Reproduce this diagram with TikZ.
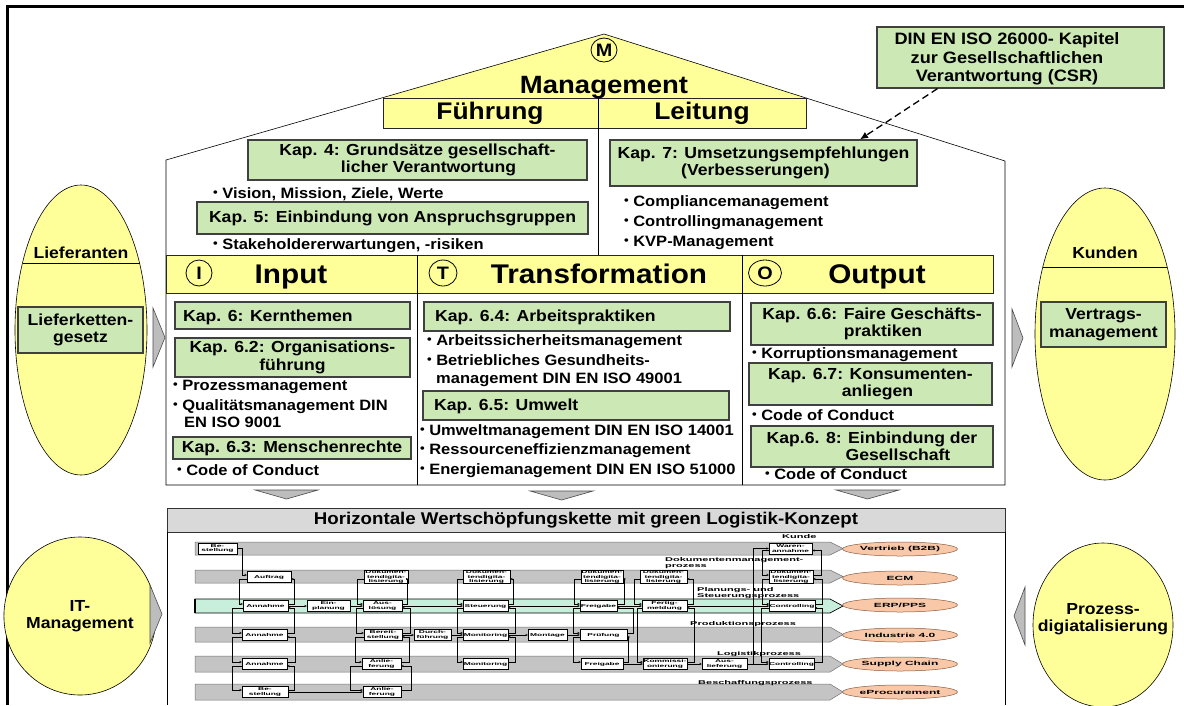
\documentclass[tikz,border=0pt]{standalone}
\usepackage{fontspec}
\usepackage{graphicx}
\setmainfont{Liberation Sans}[FakeStretch=1.1]
\newfontfamily\pfont{Liberation Sans}[FakeStretch=2.0]
\usetikzlibrary{shapes.geometric,arrows.meta}
\definecolor{cyel}{HTML}{FFFF99}
\definecolor{cgrn}{HTML}{CCE8B4}
\definecolor{cgry}{HTML}{BDBDBD}
\definecolor{cbar}{HTML}{D9D9D9}
\definecolor{clane}{HTML}{C4C4C4}
\definecolor{cmint}{HTML}{C8EEDC}
\definecolor{corg}{HTML}{F8C8A8}
\definecolor{corgd}{HTML}{8A5A40}
\newcommand{\mybul}{\raisebox{0.08em}{\scalebox{0.8}{•}}\hspace{0.3em}}
\newcommand{\fBody}{\fontsize{15}{17}\selectfont\bfseries}
\newcommand{\fTitle}{\fontsize{16}{17.5}\selectfont\bfseries}
\newcommand{\fHead}{\fontsize{24}{26}\selectfont\bfseries}
\newcommand{\fBig}{\fontsize{27}{29}\selectfont\bfseries}
\newcommand{\fEll}{\fontsize{16}{17.5}\selectfont\bfseries}
\newcommand{\fBox}{\pfont\fontsize{4.2}{4.4}\selectfont\bfseries}
\newcommand{\fLab}{\pfont\fontsize{5.5}{6}\selectfont\bfseries}
\newcommand{\fOrg}{\pfont\fontsize{6}{7}\selectfont\bfseries}
\tikzset{
  ybox/.style={draw=black!85, fill=cyel, line width=0.9pt, inner sep=0pt},
  gbox/.style={draw=black!75, fill=cgrn, line width=1.2pt, inner sep=0pt, align=center, font=\fTitle},
  tt/.style={inner sep=0pt, anchor=base west, font=\fBody},
  ell/.style={draw=black, fill=cyel, ellipse, inner sep=0pt, line width=0.6pt, align=center, font=\fEll},
  garrow/.style={fill=cgry, draw=black!70, line width=0.6pt},
  lanebox/.style={fill=clane, draw=black!55, line width=0.5pt},
  pb/.style={draw=black, fill=white, line width=0.4pt, inner sep=0.3pt, minimum height=11pt, align=center, font=\fBox},
  plab/.style={inner sep=0pt, anchor=base west, font=\fLab},
  oell/.style={ellipse, draw=corgd, fill=corg, line width=0.5pt, minimum width=115pt, minimum height=14pt, inner sep=0pt, font=\fOrg},
  plink/.style={draw=black, line width=0.45pt, -{Stealth[length=2.4pt,width=2.2pt]}},
}
\newcommand{\plinkv}[4]{%
  \draw[plink] ([yshift=-2pt]#1.west) -- ++(-#3,0) |- ([yshift=2pt]#2.west);
  \draw[plink] ([yshift=2pt]#2.east) -- ++(#4,0) |- ([yshift=-2pt]#1.east);}
\begin{document}
\begin{tikzpicture}[x=1pt,y=-1pt]
\useasboundingbox (0,0) rectangle (1184,705);
% outer frame
\draw[line width=3.5pt] (7.5,705) -- (7.5,6.5) -- (1184,6.5);
% house
\fill[cyel] (381,98) -- (604,34) -- (806,98) -- cycle;
\draw[line width=0.6pt] (166,485) -- (166,160) -- (604,34) -- (1005,161) -- (1005,485) -- cycle;
\node[ybox, minimum width=423pt, minimum height=30pt] (fl) at (594.5,113) {};
\draw[line width=0.6pt] (598,98) -- (598,255);
\node[draw, ellipse, line width=0.8pt, minimum width=26pt, minimum height=24pt, inner sep=0pt, font=\fontsize{18}{20}\selectfont\bfseries] (mcirc) at (604,50) {M};
\node[tt, anchor=base, font=\fontsize{25}{27}\selectfont\bfseries] (mgmt) at (604,93) {Management};
\node[tt, anchor=base, font=\fHead] (fuehr) at (490,119) {Führung};
\node[tt, anchor=base, font=\fHead] (leit) at (702,119) {Leitung};
% roof boxes
\node[gbox, minimum width=339pt, minimum height=40pt] (k4) at (417.5,160) {Kap. 4: Grundsätze gesellschaft-\\\hspace*{22pt}licher Verantwortung};
\node[tt] (vis) at (213,198) {\mybul Vision, Mission, Ziele, Werte};
\node[gbox, minimum width=391pt, minimum height=32pt] (k5) at (392.5,218) {Kap. 5: Einbindung von Anspruchsgruppen};
\node[tt] (stake) at (213,249) {\mybul Stakeholdererwartungen, -risiken};
\node[gbox, minimum width=307pt, minimum height=46pt] (k7) at (763.5,163) {Kap. 7: Umsetzungsempfehlungen\\(Verbesserungen)\hspace*{16pt}};
\node[tt] (comp) at (624,206) {\mybul Compliancemanagement};
\node[tt] (contr) at (624,226) {\mybul Controllingmanagement};
\node[tt] (kvp) at (624,246) {\mybul KVP-Management};
\node[gbox, minimum width=287pt, minimum height=61pt] (din) at (1020.5,57.5) {};
\node[inner sep=0pt, align=center, font=\fontsize{16.5}{18.5}\selectfont\bfseries] (dint) at (1007,59) {DIN EN ISO 26000- Kapitel\\zur Gesellschaftlichen\\Verantwortung (CSR)};
\draw[dash pattern=on 7pt off 4pt, line width=1.3pt, -{Latex[length=8pt,width=7pt]}] ([xshift=-83pt]din.south) -- ([xshift=96.5pt]k7.north);
% I T O band
\node[ybox, minimum width=827pt, minimum height=38pt] (band) at (579.5,274) {};
\draw[line width=0.6pt] (417,255) -- (417,485);
\draw[line width=0.6pt] (742,255) -- (742,485);
\node[draw, ellipse, line width=0.8pt, minimum width=26pt, minimum height=26pt, inner sep=0pt, font=\fontsize{18}{20}\selectfont\bfseries] (ci) at (199,273) {I};
\node[draw, ellipse, line width=0.8pt, minimum width=28pt, minimum height=26pt, inner sep=0pt, font=\fontsize{18}{20}\selectfont\bfseries] (ct) at (443,273) {T};
\node[draw, ellipse, line width=0.8pt, minimum width=33pt, minimum height=26pt, inner sep=0pt, font=\fontsize{18}{20}\selectfont\bfseries] (co) at (765,273) {O};
\node[tt, anchor=base, font=\fBig] (hin) at (291,283) {Input};
\node[tt, anchor=base, font=\fBig] (htr) at (599,283) {Transformation};
\node[tt, anchor=base, font=\fBig] (hout) at (877,283) {Output};
% Input column
\node[gbox, minimum width=235pt, minimum height=27pt] (k6) at (292.5,315.5) {};
\node[tt, font=\fTitle] (k6t) at (183,321) {Kap. 6: Kernthemen};
\node[gbox, minimum width=235pt, minimum height=39pt] (k62) at (292.5,357.5) {Kap. 6.2: Organisations-\\führung};
\node[tt] (proz) at (173,390) {\mybul Prozessmanagement};
\node[tt] (qual) at (173,410) {\mybul Qualitätsmanagement DIN};
\node[tt] (qual2) at (184,427) {EN ISO 9001};
\node[gbox, minimum width=238pt, minimum height=22pt] (k63) at (292,448) {Kap. 6.3: Menschenrechte};
\node[tt] (coc1) at (177,475) {\mybul Code of Conduct};
% Transformation column
\node[gbox, minimum width=306pt, minimum height=29pt] (k64) at (577,316.5) {};
\node[tt, font=\fTitle] (k64t) at (435,321) {Kap. 6.4: Arbeitspraktiken};
\node[tt] (asm) at (427,345) {\mybul Arbeitssicherheitsmanagement};
\node[tt] (bgm) at (427,365) {\mybul Betriebliches Gesundheits-};
\node[tt] (bgm2) at (436,383) {management DIN EN ISO 49001};
\node[gbox, minimum width=306pt, minimum height=29pt] (k65) at (576,405.5) {};
\node[tt, font=\fTitle] (k65t) at (434,410) {Kap. 6.5: Umwelt};
\node[tt] (umw) at (420,435) {\mybul Umweltmanagement DIN EN ISO 14001};
\node[tt] (res) at (420,454) {\mybul Ressourceneffizienzmanagement};
\node[tt] (ene) at (420,474) {\mybul Energiemanagement DIN EN ISO 51000};
% Output column
\node[gbox, minimum width=242pt, minimum height=42pt] (k66) at (872,324) {Kap. 6.6: Faire Geschäfts-\\\hspace*{22pt}praktiken};
\node[tt] (korr) at (752,358) {\mybul Korruptionsmanagement};
\node[gbox, minimum width=243pt, minimum height=42pt] (k67) at (870.5,384) {Kap. 6.7: Konsumenten-\\\hspace*{14pt}anliegen};
\node[tt] (coc2) at (752,420) {\mybul Code of Conduct};
\node[gbox, minimum width=242pt, minimum height=41pt] (k68) at (872,446.5) {Kap.6. 8: Einbindung der\\\hspace*{52pt}Gesellschaft};
\node[tt] (coc3) at (765,479) {\mybul Code of Conduct};
% side ellipses
\node[ell, minimum width=132pt, minimum height=290pt] (lief) at (81,330) {};
\draw[line width=0.6pt] (22.5,263) -- (139.5,263);
\node[tt, anchor=base, font=\fEll] (lieft) at (81,258) {Lieferanten};
\node[gbox, minimum width=125pt, minimum height=46pt] (lkg) at (80.5,330) {Lieferketten-\\gesetz};
\node[ell, minimum width=140pt, minimum height=292pt] (kund) at (1105,334) {};
\draw[line width=0.6pt] (1042.8,267) -- (1167.2,267);
\node[tt, anchor=base, font=\fEll] (kundt) at (1105,258) {Kunden};
\node[gbox, minimum width=125pt, minimum height=45pt] (vm) at (1103.5,324.5) {Vertrags-\\management};
\filldraw[garrow] (153,308) -- (165,337.5) -- (153,367) -- cycle;
\filldraw[garrow] (1012,309) -- (1023,338) -- (1012,367) -- cycle;
% down arrows
\filldraw[garrow] (255,490) -- (318,490) -- (286.5,499) -- cycle;
\filldraw[garrow] (530,491) -- (593,491) -- (561.5,500) -- cycle;
\filldraw[garrow] (836,490) -- (899,490) -- (867.5,499) -- cycle;
% bar
\node[draw=black!80, fill=cbar, line width=0.8pt, minimum width=838pt, minimum height=24pt, inner sep=0pt, font=\fontsize{17}{19}\selectfont\bfseries] (hbar) at (586,520) {Horizontale Wertschöpfungskette mit green Logistik-Konzept};
\draw[line width=0.8pt] (167,532) -- (167,705);
\draw[line width=0.8pt] (1005,532) -- (1005,705);
% bottom side ellipses
\node[ell, minimum width=130pt, minimum height=158pt] (itm) at (80,616) {IT-\\Management};
\filldraw[garrow] (150,585) -- (162,614) -- (150,643) -- cycle;
\node[ell, minimum width=140pt, minimum height=164pt] (pd) at (1103,625) {};
\node[inner sep=0pt, align=center, font=\fEll] (pdt) at (1103,619) {Prozess-\\digiatalisierung};
\filldraw[garrow] (1025,587) -- (1014,616) -- (1025,645) -- cycle;
% process lanes
\foreach \t/\b in {542/555, 570/583, 627/642, 656/672, 684/700}{
  \filldraw[lanebox] (195,\t) -- (830,\t) -- (843,{(\t+\b)/2}) -- (830,\b) -- (195,\b) -- cycle;
}
\filldraw[fill=cmint, draw=black, line width=0.7pt] (195,599) -- (830,599) -- (843,606) -- (830,613) -- (195,613) -- cycle;
\draw[line width=2pt] (195,599) -- (195,613);
% lane labels
\node[plab] (lk) at (782,538) {Kunde};
\node[plab] (ld1) at (665,561) {Dokumentenmanagement-};
\node[plab] (ld2) at (665,567) {prozess};
\node[plab] (lp1) at (697,591) {Planungs- und};
\node[plab] (lp2) at (697,597) {Steuerungsprozess};
\node[plab] (lpr) at (690,625) {Produktionsprozess};
\node[plab] (llo) at (717,655) {Logistikprozess};
\node[plab] (lbe) at (698,684) {Beschaffungsprozess};
% orange ellipses
\node[oell] (o1) at (900,549) {Vertrieb (B2B)};
\node[oell] (o2) at (900,578) {ECM};
\node[oell] (o3) at (900,605) {ERP/PPS};
\node[oell] (o4) at (900,635) {Industrie 4.0};
\node[oell] (o5) at (900,664) {Supply Chain};
\node[oell] (o6) at (900,692) {eProcurement};
% process boxes
\node[pb, minimum width=39pt] (b1) at (217.5,548.5) {Be-\\stellung};
\node[pb, minimum width=43pt] (wa) at (790.5,548.5) {Waren-\\annahme};
\node[pb, minimum width=44pt] (auf) at (269,577) {Auftrag};
\node[pb, minimum width=44pt] (d1) at (386,577) {Dokumen-\\tendigita-\\lisierung};
\node[pb, minimum width=47pt] (d2) at (486.5,577) {Dokumen-\\tendigita-\\lisierung};
\node[pb, minimum width=42pt] (d3) at (602,577) {Dokumen-\\tendigita-\\lisierung};
\node[pb, minimum width=47pt] (d4) at (663.5,577) {Dokumen-\\tendigita-\\lisierung};
\node[pb, minimum width=44pt] (d5) at (791,577) {Dokumen-\\tendigita-\\lisierung};
\node[pb, minimum width=45pt] (an3) at (265.5,606) {Annahme};
\node[pb, minimum width=43pt] (ein) at (328.5,606) {Ein-\\planung};
\node[pb, minimum width=39pt] (aus) at (382.5,606) {Aus-\\lösung};
\node[pb, minimum width=45pt] (st) at (485.5,606) {Steuerung};
\node[pb, minimum width=37pt] (fr3) at (598.5,606) {Freigabe};
\node[pb, minimum width=45pt] (fm) at (664.5,606) {Fertig-\\meldung};
\node[pb, minimum width=44pt] (co3) at (792,606) {Controlling};
\node[pb, minimum width=45pt] (an4) at (264.5,635) {Annahme};
\node[pb, minimum width=38pt] (be) at (383,635) {Bereit-\\stellung};
\node[pb, minimum width=37pt] (du) at (432.5,635) {Durch-\\führung};
\node[pb, minimum width=45pt] (mo4) at (485.5,635) {Monitoring};
\node[pb, minimum width=39pt] (mon) at (547.5,635) {Montage};
\node[pb, minimum width=47pt] (pr) at (603.5,635) {Prüfung};
\node[pb, minimum width=45pt] (an5) at (264.5,664) {Annahme};
\node[pb, minimum width=39pt] (al5) at (381.5,664) {Anlie-\\ferung};
\node[pb, minimum width=45pt] (mo5) at (485.5,664) {Monitoring};
\node[pb, minimum width=42pt] (fr5) at (602,664) {Freigabe};
\node[pb, minimum width=44pt] (ko) at (665,664) {Kommissi-\\onierung};
\node[pb, minimum width=45pt] (au) at (724.5,664) {Aus-\\lieferung};
\node[pb, minimum width=45pt] (co5) at (791.5,664) {Controlling};
\node[pb, minimum width=46pt] (bs6) at (265,692) {Be-\\stellung};
\node[pb, minimum width=38pt] (al6) at (382,692) {Anlie-\\ferung};
% process connectors
\draw[plink] (b1.east) -- ++(5,0) |- ([yshift=2pt]auf.west);
\draw[plink] (au.east) -- ++(6,0) |- (wa.west);
\plinkv{auf}{an3}{8}{6}
\plinkv{an3}{an4}{11}{7}
\plinkv{an4}{an5}{10}{8}
\plinkv{an5}{bs6}{10}{6}
\plinkv{d1}{aus}{7}{5}
\plinkv{aus}{be}{7}{8}
\plinkv{be}{al5}{9}{8}
\plinkv{al5}{al6}{12}{10}
\plinkv{d2}{st}{6}{5}
\plinkv{st}{mo4}{6}{7}
\plinkv{mo4}{mo5}{6}{7}
\plinkv{d3}{fr3}{7}{7}
\plinkv{fr3}{pr}{7}{6}
\plinkv{pr}{fr5}{7}{5}
\plinkv{d4}{fm}{6}{6}
\plinkv{fm}{ko}{5}{7}
\plinkv{wa}{d5}{7}{8}
\plinkv{d5}{co3}{7}{7}
\plinkv{co3}{co5}{8}{8}
\draw[plink] (an3.east) -- (ein.west);
\draw[plink] (ein.east) -- (aus.west);
\draw[plink] (aus.east) -- (st.west);
\draw[plink] (st.east) -- (fr3.west);
\draw[plink] (fr3.east) -- (fm.west);
\draw[plink] (fm.east) -- (co3.west);
\draw[plink] (be.east) -- (du.west);
\draw[plink] (du.east) -- (mo4.west);
\draw[plink] (mo4.east) -- (mon.west);
\draw[plink] (mon.east) -- (pr.west);
\draw[plink] (fr5.east) -- (ko.west);
\draw[plink] (ko.east) -- (au.west);
\draw[plink] (au.east) -- (co5.west);
\draw[plink] (bs6.east) -- (al6.west);
\end{tikzpicture}
\end{document}
